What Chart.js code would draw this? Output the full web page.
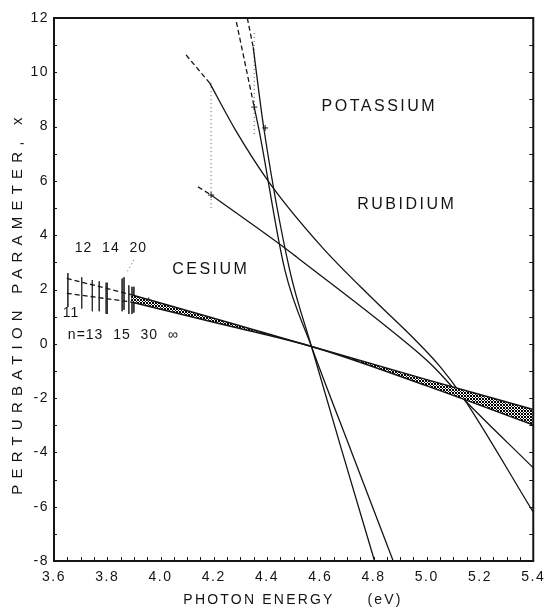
<!DOCTYPE html>
<html>
<head>
<meta charset="utf-8">
<script src="https://cdn.jsdelivr.net/npm/chart.js@4.4.0/dist/chart.umd.min.js"></script>
<style>
  html, body { margin: 0; padding: 0; background: #fff; }
  #wrap { width: 551px; height: 609px; }
</style>
</head>
<body>
<div id="wrap"><canvas id="chart"></canvas></div>
<script>
// axis tick labels
const xTicks = [3.6, 3.8, 4.0, 4.2, 4.4, 4.6, 4.8, 5.0, 5.2, 5.4];
const yTicks = [-8, -6, -4, -2, 0, 2, 4, 6, 8, 10, 12];

// cesium: shaded band between two edges
const csX = [3.89, 4.2, 4.567, 5.0, 5.4];
const csUpper = [1.81, 0.94, -0.1, -1.32, -2.42];
const csLower = [1.54, 0.79, -0.1, -1.55, -2.99];
// cesium dashed part (low n)
const csDashX = [3.648, 3.89];
const csDashUpper = [2.41, 1.81];
const csDashLower = [1.86, 1.54];
// n markers along the cesium series
const nTickX = [3.652, 3.704, 3.744, 3.77, 3.796, 3.80, 3.856, 3.863, 3.881, 3.893, 3.90];
const nTickTop = [2.6, 2.45, 2.35, 2.3, 2.25, 2.25, 2.4, 2.45, 2.15, 2.1, 2.1];
const nTickBottom = [1.35, 1.3, 1.2, 1.2, 1.1, 1.1, 1.2, 1.25, 1.1, 1.1, 1.15];
const leaderX = [3.9, 3.874];
const leaderY = [3.09, 2.64];

// rubidium
const rb1DashX = [4.096, 4.185];
const rb1DashY = [10.64, 9.6];
const rb1X = [4.185, 4.28, 4.41, 4.604, 4.80, 4.956, 5.05, 5.13, 5.4];
const rb1Y = [9.6, 7.9, 5.92, 3.59, 1.63, 0.15, -0.84, -1.88, -6.2];
const rb2DashX = [4.141, 4.19];
const rb2DashY = [5.78, 5.48];
const rb2X = [4.19, 4.467, 4.511, 4.956, 5.03, 5.13, 5.4];
const rb2Y = [5.48, 3.53, 3.2, -0.23, -0.89, -1.95, -4.57];
const rbLimitX = [4.19, 4.19];
const rbLimitY = [9.6, 5.0];

// potassium (k1 ends at 4.80, k2 at 4.87)
const k1DashX = [4.326, 4.348];
const k1DashY = [12, 10.93];
const k1X = [4.348, 4.389, 4.485, 4.567, 4.68, 4.804];
const k1Y = [10.93, 7.875, 2.72, -0.1, -3.9, -8];
const k2DashX = [4.285, 4.352];
const k2DashY = [11.85, 8.72];
const k2X = [4.352, 4.370, 4.467, 4.567, 4.72, 4.874];
const k2Y = [8.72, 7.875, 2.72, -0.1, -4.05, -8];
const kLimitX = [4.352, 4.352];
const kLimitY = [11.45, 7.62];

// small + marks on the curves
const markX = [4.352, 4.393, 3.956, 4.19];
const markY = [8.72, 7.95, 1.6, 5.48];

// text in the plot
const bigLabels = [
    { text: 'POTASSIUM', x: 4.822, y: 8.72 },
    { text: 'RUBIDIUM', x: 4.925, y: 5.11 },
    { text: 'CESIUM', x: 4.189, y: 2.72 }
];
const smallLabels = [
    { text: '12  14  20', x: 3.678, y: 3.53 },
    { text: '11', x: 3.633, y: 1.13 },
    { text: 'n=13  15  30  \u221e', x: 3.652, y: 0.32 }
];

const FONT = '"Liberation Sans", "DejaVu Sans", sans-serif';
const INK = '#141414';

function pts(xs, ys) {
    return xs.map((x, i) => ({ x: x, y: ys[i] }));
}

function nTicks() {
    const out = [];
    nTickX.forEach((x, i) => {
        out.push({ x: x, y: nTickTop[i] });
        out.push({ x: x, y: nTickBottom[i] });
        out.push({ x: x, y: null });
    });
    return out;
}

function hatch() {
    const c = document.createElement('canvas');
    c.width = 3; c.height = 3;
    const g = c.getContext('2d');
    g.fillStyle = '#fff';
    g.fillRect(0, 0, 3, 3);
    g.strokeStyle = '#000';
    g.lineWidth = 1;
    g.beginPath();
    g.moveTo(0, 0); g.lineTo(3, 3);
    g.moveTo(3, 0); g.lineTo(0, 3);
    g.stroke();
    return g.createPattern(c, 'repeat');
}

function solid(data, w) {
    return { data: data, borderColor: INK, borderWidth: w || 1.3, pointRadius: 0, fill: false, cubicInterpolationMode: 'monotone' };
}
function dashed(data) {
    return { data: data, borderColor: INK, borderWidth: 1.3, borderDash: [5, 3], pointRadius: 0, fill: false };
}
function dotted(data) {
    return { data: data, borderColor: '#555', borderWidth: 1, borderDash: [1, 3], pointRadius: 0, fill: false };
}

// frame, inward ticks, titles and text
const decor = {
    id: 'decor',
    beforeDraw(chart) {
        chart.ctx.letterSpacing = '1.5px';
    },
    afterDraw(chart) {
        const ctx = chart.ctx;
        const a = chart.chartArea;
        const xs = chart.scales.x, ys = chart.scales.y;
        ctx.save();
        ctx.strokeStyle = INK;
        ctx.lineWidth = 2;
        ctx.strokeRect(a.left, a.top, a.right - a.left, a.bottom - a.top);

        ctx.lineWidth = 1;
        ctx.beginPath();
        for (let v = 3.6; v <= 5.401; v += 0.05) {
            const px = Math.round(xs.getPixelForValue(v)) + 0.5;
            ctx.moveTo(px, a.bottom); ctx.lineTo(px, a.bottom - 4);
        }
        for (let v = -8; v <= 12; v += 1) {
            const py = Math.round(ys.getPixelForValue(v)) + 0.5;
            ctx.moveTo(a.right, py); ctx.lineTo(a.right - 4, py);
            ctx.moveTo(a.left, py); ctx.lineTo(a.left + 3, py);
        }
        ctx.stroke();

        ctx.fillStyle = INK;
        // axis titles
        ctx.font = '14px ' + FONT;
        ctx.textAlign = 'center';
        ctx.textBaseline = 'middle';
        ctx.letterSpacing = '2.2px';
        ctx.fillText('PHOTON ENERGY', 259, 600);
        ctx.fillText('(eV)', 385, 600);
        ctx.save();
        ctx.translate(18, 303);
        ctx.rotate(-Math.PI / 2);
        ctx.font = '15px ' + FONT;
        ctx.letterSpacing = '6.2px';
        ctx.fillText('PERTURBATION PARAMETER, x', 0, 0);
        ctx.restore();

        ctx.font = '16px ' + FONT;
        ctx.letterSpacing = '2.5px';
        bigLabels.forEach(l => {
            ctx.fillText(l.text, xs.getPixelForValue(l.x), ys.getPixelForValue(l.y));
        });
        ctx.font = '14px ' + FONT;
        ctx.letterSpacing = '1px';
        ctx.textAlign = 'left';
        smallLabels.forEach(l => {
            ctx.fillText(l.text, xs.getPixelForValue(l.x), ys.getPixelForValue(l.y));
        });
        ctx.restore();
        ctx.letterSpacing = '0px';
    }
};

const ctx = document.getElementById('chart').getContext('2d');
new Chart(ctx, {
    type: 'line',
    data: {
        datasets: [
            solid(pts(csX, csUpper), 1.5),
            Object.assign(solid(pts(csX, csLower), 1.5), { fill: 0, backgroundColor: hatch() }),
            dashed(pts(csDashX, csDashUpper)),
            dashed(pts(csDashX, csDashLower)),
            { data: nTicks(), borderColor: '#333', borderWidth: 1, pointRadius: 0, spanGaps: false, fill: false },
            dotted(pts(leaderX, leaderY)),
            dashed(pts(rb1DashX, rb1DashY)),
            solid(pts(rb1X, rb1Y)),
            dashed(pts(rb2DashX, rb2DashY)),
            solid(pts(rb2X, rb2Y)),
            dotted(pts(rbLimitX, rbLimitY)),
            dashed(pts(k1DashX, k1DashY)),
            solid(pts(k1X, k1Y)),
            dashed(pts(k2DashX, k2DashY)),
            solid(pts(k2X, k2Y)),
            dotted(pts(kLimitX, kLimitY)),
            { data: pts(markX, markY), showLine: false, pointStyle: 'cross', pointRadius: 3, borderColor: INK, borderWidth: 1 }
        ]
    },
    options: {
        responsive: true,
        maintainAspectRatio: false,
        animation: false,
        events: [],
        layout: { padding: { top: 18, right: 11, left: 0, bottom: 0 } },
        plugins: { legend: { display: false }, tooltip: { enabled: false } },
        scales: {
            x: {
                type: 'linear', min: 3.6, max: 5.4,
                afterBuildTicks: s => { s.ticks = xTicks.map(v => ({ value: v })); },
                afterFit: s => { s.height = 48; },
                grid: { display: false, drawTicks: false },
                border: { display: false },
                ticks: { color: INK, padding: 8, font: { family: FONT, size: 14 }, callback: v => v.toFixed(1), maxRotation: 0 }
            },
            y: {
                type: 'linear', min: -8, max: 12,
                afterBuildTicks: s => { s.ticks = yTicks.map(v => ({ value: v })); },
                afterFit: s => { s.width = 54; },
                grid: { display: false, drawTicks: false },
                border: { display: false },
                ticks: { color: INK, padding: 5, font: { family: FONT, size: 14 } }
            }
        }
    },
    plugins: [decor]
});
</script>
</body>
</html>
